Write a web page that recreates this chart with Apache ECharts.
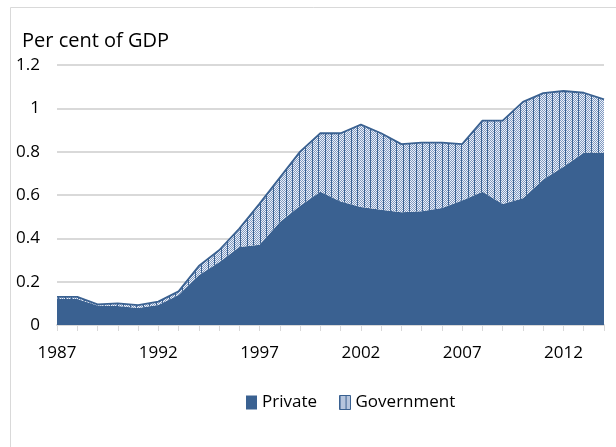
<!DOCTYPE html>
<html>
<head>
<meta charset="utf-8">
<script src="https://cdn.jsdelivr.net/npm/echarts@6/dist/echarts.min.js"></script>
<style>
  html, body { margin: 0; padding: 0; background: #ffffff; }
  #chart { width: 616px; height: 447px; }
</style>
</head>
<body>
<div id="chart"></div>
<script>
// Years on the horizontal axis
var years = [1987, 1988, 1989, 1990, 1991, 1992, 1993, 1994, 1995, 1996,
             1997, 1998, 1999, 2000, 2001, 2002, 2003, 2004, 2005, 2006,
             2007, 2008, 2009, 2010, 2011, 2012, 2013, 2014];

// Private investment, per cent of GDP
var privateShare = [0.12, 0.12, 0.09, 0.088, 0.078, 0.092, 0.138, 0.23, 0.29, 0.36,
                    0.37, 0.475, 0.55, 0.615, 0.57, 0.545, 0.532, 0.52, 0.525, 0.54,
                    0.575, 0.615, 0.558, 0.585, 0.672, 0.73, 0.795, 0.795];

// Government investment, per cent of GDP (stacked on private)
var governmentShare = [0.01, 0.01, 0.005, 0.012, 0.014, 0.016, 0.017, 0.042, 0.055, 0.085,
                       0.19, 0.205, 0.25, 0.27, 0.315, 0.38, 0.353, 0.315, 0.317, 0.302,
                       0.26, 0.328, 0.385, 0.445, 0.398, 0.35, 0.277, 0.246];

var yTicks = [0, 0.2, 0.4, 0.6, 0.8, 1, 1.2];

var BLUE = '#3a6191';
var FONT = "'Open Sans', sans-serif";

// Hatched fill: fine checker with dark vertical strokes
function makeHatch() {
  var c = document.createElement('canvas');
  c.width = 13; c.height = 4;
  var g = c.getContext('2d');
  for (var y = 0; y < c.height; y++) {
    for (var x = 0; x < c.width; x++) {
      g.fillStyle = ((x + y) % 2 === 0) ? '#eef2f8' : '#7f99c2';
      g.fillRect(x, y, 1, 1);
    }
  }
  g.fillStyle = BLUE;
  g.fillRect(0, 0, 1, c.height);
  g.fillRect(6, 0, 1, c.height);
  return c;
}
var hatch = { image: makeHatch(), repeat: 'repeat' };

var chart = echarts.init(document.getElementById('chart'), null, { renderer: 'canvas' });

chart.setOption({
  animation: false,
  backgroundColor: '#ffffff',
  textStyle: { fontFamily: FONT },
  grid: { left: 57, right: 12, top: 65, bottom: 122, containLabel: false },
  graphic: [
    {
      type: 'polyline',
      shape: { points: [[10.5, 447], [10.5, 7.5], [616, 7.5]] },
      style: { stroke: '#d9d9d9', lineWidth: 1, fill: null },
      silent: true
    },
    {
      type: 'text',
      left: 22, top: 31,
      style: { text: 'Per cent of GDP', fontSize: 20, fontFamily: FONT, fill: '#000000' }
    }
  ],
  legend: {
    left: 241, top: 389,
    itemWidth: 11, itemHeight: 14,
    itemGap: 22,
    textStyle: { fontSize: 17, color: '#000000', fontFamily: FONT },
    data: [
      { name: 'Private', icon: 'rect', itemStyle: { color: BLUE, borderWidth: 0 } },
      { name: 'Government', icon: 'rect', itemStyle: { color: hatch, borderColor: BLUE, borderWidth: 1 } }
    ]
  },
  xAxis: {
    type: 'category',
    data: years,
    boundaryGap: false,
    axisLine: { lineStyle: { color: '#d9d9d9', width: 2 } },
    axisTick: { show: true, interval: 0, length: 6, lineStyle: { color: '#d9d9d9', width: 1 } },
    axisLabel: { interval: 4, fontSize: 17, color: '#000000', margin: 20, fontFamily: FONT },
    splitLine: { show: false }
  },
  yAxis: {
    type: 'value',
    min: yTicks[0], max: yTicks[yTicks.length - 1], interval: 0.2,
    axisLine: { show: false },
    axisTick: { show: false },
    axisLabel: {
      fontSize: 17, color: '#000000', margin: 17, fontFamily: FONT,
      formatter: function (v) { return String(Math.round(v * 10) / 10); }
    },
    splitLine: { lineStyle: { color: '#d9d9d9', width: 2 } }
  },
  series: [
    {
      name: 'Private',
      type: 'line',
      stack: 'total',
      data: privateShare,
      showSymbol: false,
      symbol: 'none',
      lineStyle: { width: 0, color: BLUE },
      itemStyle: { color: BLUE },
      areaStyle: { color: BLUE, opacity: 1 }
    },
    {
      name: 'Government',
      type: 'line',
      stack: 'total',
      data: governmentShare,
      showSymbol: false,
      symbol: 'none',
      lineStyle: { width: 1.8, color: BLUE },
      itemStyle: { color: BLUE },
      areaStyle: { color: hatch, opacity: 1 }
    }
  ]
});
</script>
</body>
</html>
